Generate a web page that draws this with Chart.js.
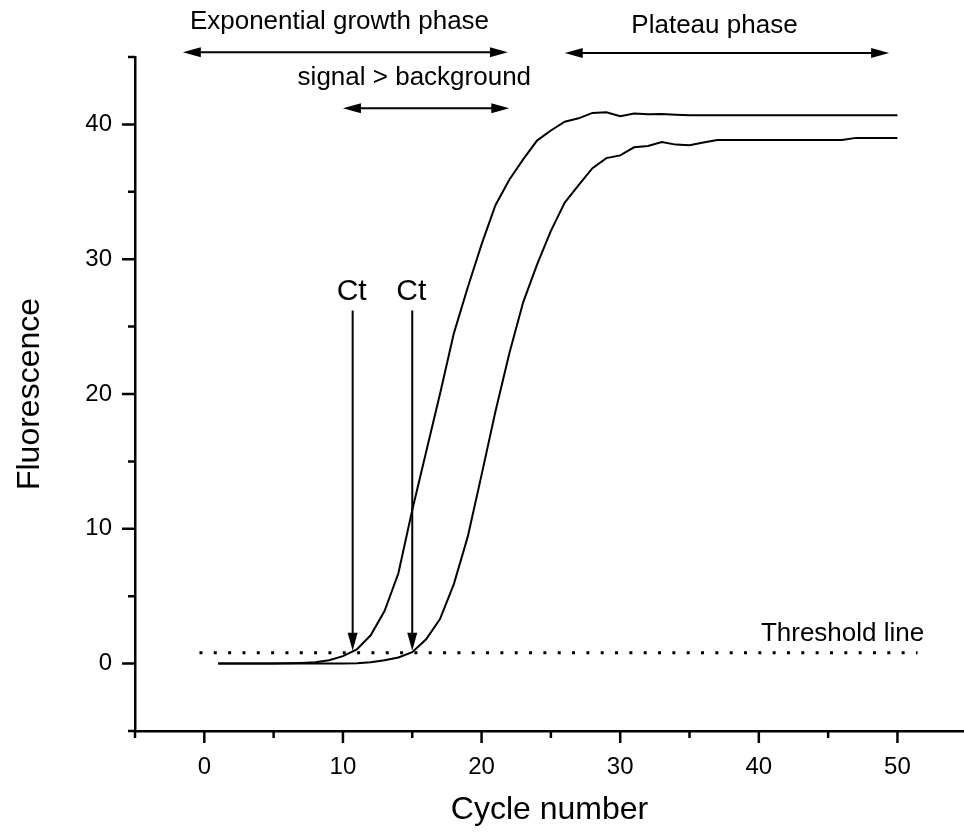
<!DOCTYPE html>
<html>
<head>
<meta charset="utf-8">
<title>Fluorescence vs cycle number</title>
<script src="https://cdn.jsdelivr.net/npm/chart.js@4.4.1/dist/chart.umd.min.js"></script>
<style>
  html, body { margin: 0; padding: 0; background: #fff; }
  #wrap { width: 964px; height: 835px; }
</style>
</head>
<body>
<div id="wrap"><canvas id="grafico" width="964" height="835"></canvas></div>
<script>
// cycle number and fluorescence of the two amplification curves
var ciclos = [1, 2, 3, 4, 5, 6, 7, 8, 9, 10,
              11, 12, 13, 14, 15, 16, 17, 18, 19, 20,
              21, 22, 23, 24, 25, 26, 27, 28, 29, 30,
              31, 32, 33, 34, 35, 36, 37, 38, 39, 40,
              41, 42, 43, 44, 45, 46, 47, 48, 49, 50];

var amostraA = [0, 0, 0, 0, 0, 0.02, 0.05, 0.1, 0.25, 0.55,
                1.05, 2.1, 3.9, 6.7, 11.4, 15.7, 20.0, 24.5, 27.9, 31.1,
                34.0, 35.9, 37.4, 38.8, 39.55, 40.2, 40.45, 40.85, 40.9, 40.6,
                40.8, 40.75, 40.78, 40.72, 40.68, 40.68, 40.68, 40.68, 40.68, 40.68,
                40.68, 40.68, 40.68, 40.68, 40.68, 40.68, 40.68, 40.68, 40.68, 40.68];

var amostraB = [0, 0, 0, 0, 0, 0, 0, 0, 0, 0,
                0.03, 0.1, 0.25, 0.45, 0.85, 1.8, 3.3, 5.9, 9.4, 14.0,
                18.7, 23.0, 26.8, 29.6, 32.1, 34.2, 35.5, 36.75, 37.5, 37.7,
                38.3, 38.4, 38.7, 38.5, 38.45, 38.65, 38.85, 38.85, 38.85, 38.85,
                38.85, 38.85, 38.85, 38.85, 38.85, 38.85, 39.0, 39.0, 39.0, 39.0];

// threshold line and the Ct of each curve
var limiar = 0.8;
var limiarCiclos = [-0.35, 51.45];
var ctCiclos = [10.7, 15.0];

var xTicks = [0, 10, 20, 30, 40, 50];
var xMenores = [-5, 5, 15, 25, 35, 45, 55];
var yTicks = [0, 10, 20, 30, 40];
var yMenores = [-5, 5, 15, 25, 35, 45];

// phases marked above the curves (cycle ranges)
var fases = [
    { texto: 'Exponential growth phase', de: -1.55, ate: 21.9, centro: 9.75, nivel: 45.35, base: 47.08 },
    { texto: 'signal > background', de: 10, ate: 22, centro: 15.15, nivel: 41.2, base: 42.95 },
    { texto: 'Plateau phase', de: 26, ate: 49.4, centro: 36.8, nivel: 45.3, base: 46.75 }
];

var FONTE = "'Liberation Sans', Arial, Helvetica, sans-serif";

function pontos(xs, ys) {
    return xs.map(function (c, i) { return { x: c, y: ys[i] }; });
}

function ponta(ctx, x, y, dx, dy) {
    // filled arrow head pointing along (dx, dy)
    var comp = 18, meia = 5;
    var bx = x - dx * comp, by = y - dy * comp;
    ctx.beginPath();
    ctx.moveTo(x, y);
    ctx.lineTo(bx - dy * meia, by + dx * meia);
    ctx.lineTo(bx + dy * meia, by - dx * meia);
    ctx.closePath();
    ctx.fill();
}

var anotacoes = {
    id: 'anotacoes',
    afterDraw: function (chart) {
        var ctx = chart.ctx, sx = chart.scales.x, sy = chart.scales.y, area = chart.chartArea;
        ctx.save();
        ctx.strokeStyle = '#000';
        ctx.fillStyle = '#000';
        ctx.lineWidth = 2.5;

        // tick marks
        ctx.beginPath();
        xTicks.forEach(function (v) {
            var px = sx.getPixelForValue(v);
            ctx.moveTo(px, area.bottom); ctx.lineTo(px, area.bottom + 12);
        });
        xMenores.forEach(function (v) {
            var px = sx.getPixelForValue(v);
            ctx.moveTo(px, area.bottom); ctx.lineTo(px, area.bottom + 7);
        });
        yTicks.forEach(function (v) {
            var py = sy.getPixelForValue(v);
            ctx.moveTo(area.left, py); ctx.lineTo(area.left - 13, py);
        });
        yMenores.forEach(function (v) {
            var py = sy.getPixelForValue(v);
            ctx.moveTo(area.left, py); ctx.lineTo(area.left - 7, py);
        });
        ctx.stroke();

        // phase arrows
        ctx.lineWidth = 2;
        ctx.font = '26px ' + FONTE;
        ctx.textAlign = 'center';
        ctx.textBaseline = 'alphabetic';
        fases.forEach(function (f) {
            var x1 = sx.getPixelForValue(f.de), x2 = sx.getPixelForValue(f.ate);
            var py = sy.getPixelForValue(f.nivel);
            ctx.beginPath();
            ctx.moveTo(x1 + 10, py); ctx.lineTo(x2 - 10, py);
            ctx.stroke();
            ponta(ctx, x1, py, -1, 0);
            ponta(ctx, x2, py, 1, 0);
            ctx.fillText(f.texto, sx.getPixelForValue(f.centro), sy.getPixelForValue(f.base));
        });

        // Ct arrows down to the threshold
        ctx.font = '30px ' + FONTE;
        ctx.lineWidth = 2;
        ctCiclos.forEach(function (c) {
            var px = sx.getPixelForValue(c);
            var topo = sy.getPixelForValue(26.2), fim = sy.getPixelForValue(limiar) - 2;
            ctx.beginPath();
            ctx.moveTo(px, topo); ctx.lineTo(px, fim - 10);
            ctx.stroke();
            ponta(ctx, px, fim, 0, 1);
            ctx.fillText('Ct', px - 1, sy.getPixelForValue(26.95));
        });

        ctx.font = '26px ' + FONTE;
        ctx.textAlign = 'left';
        ctx.fillText('Threshold line', sx.getPixelForValue(40.15), sy.getPixelForValue(1.68));
        ctx.restore();
    }
};

var grafico = document.getElementById('grafico');

var curvaChart = new Chart(grafico, {
    type: 'line',
    data: {
        datasets: [{
            label: 'Sample A',
            data: pontos(ciclos, amostraA),
            borderColor: '#000',
            borderWidth: 2,
            pointRadius: 0,
            tension: 0
        }, {
            label: 'Sample B',
            data: pontos(ciclos, amostraB),
            borderColor: '#000',
            borderWidth: 2,
            pointRadius: 0,
            tension: 0
        }, {
            label: 'Threshold',
            data: pontos(limiarCiclos, [limiar, limiar]),
            borderColor: '#000',
            borderWidth: 3,
            borderDash: [3, 11.33],
            borderCapStyle: 'butt',
            pointRadius: 0
        }]
    },
    options: {
        responsive: false,
        animation: false,
        events: [],
        layout: { padding: { top: 57, left: 0, right: 0, bottom: 0 } },
        plugins: {
            legend: { display: false },
            tooltip: { enabled: false }
        },
        scales: {
            x: {
                type: 'linear',
                min: -5,
                max: 54.8,
                grid: { display: false },
                border: { color: '#000', width: 2.5 },
                ticks: {
                    color: '#000',
                    font: { family: FONTE, size: 24 },
                    padding: 14,
                    maxRotation: 0
                },
                afterBuildTicks: function (scale) {
                    scale.ticks = xTicks.map(function (v) { return { value: v }; });
                },
                afterFit: function (scale) { scale.height = 104; },
                title: {
                    display: true,
                    text: 'Cycle number',
                    color: '#000',
                    font: { family: FONTE, size: 32 },
                    padding: { top: 0, bottom: 6 }
                }
            },
            y: {
                type: 'linear',
                min: -5,
                max: 45,
                grid: { display: false },
                border: { color: '#000', width: 2.5 },
                ticks: {
                    color: '#000',
                    font: { family: FONTE, size: 24 },
                    padding: 15
                },
                afterBuildTicks: function (scale) {
                    scale.ticks = yTicks.map(function (v) { return { value: v }; });
                },
                afterFit: function (scale) { scale.width = 135; },
                title: {
                    display: true,
                    text: 'Fluorescence',
                    color: '#000',
                    font: { family: FONTE, size: 32 },
                    padding: { top: 11, bottom: 0 }
                }
            }
        }
    },
    plugins: [anotacoes]
});
</script>
</body>
</html>
